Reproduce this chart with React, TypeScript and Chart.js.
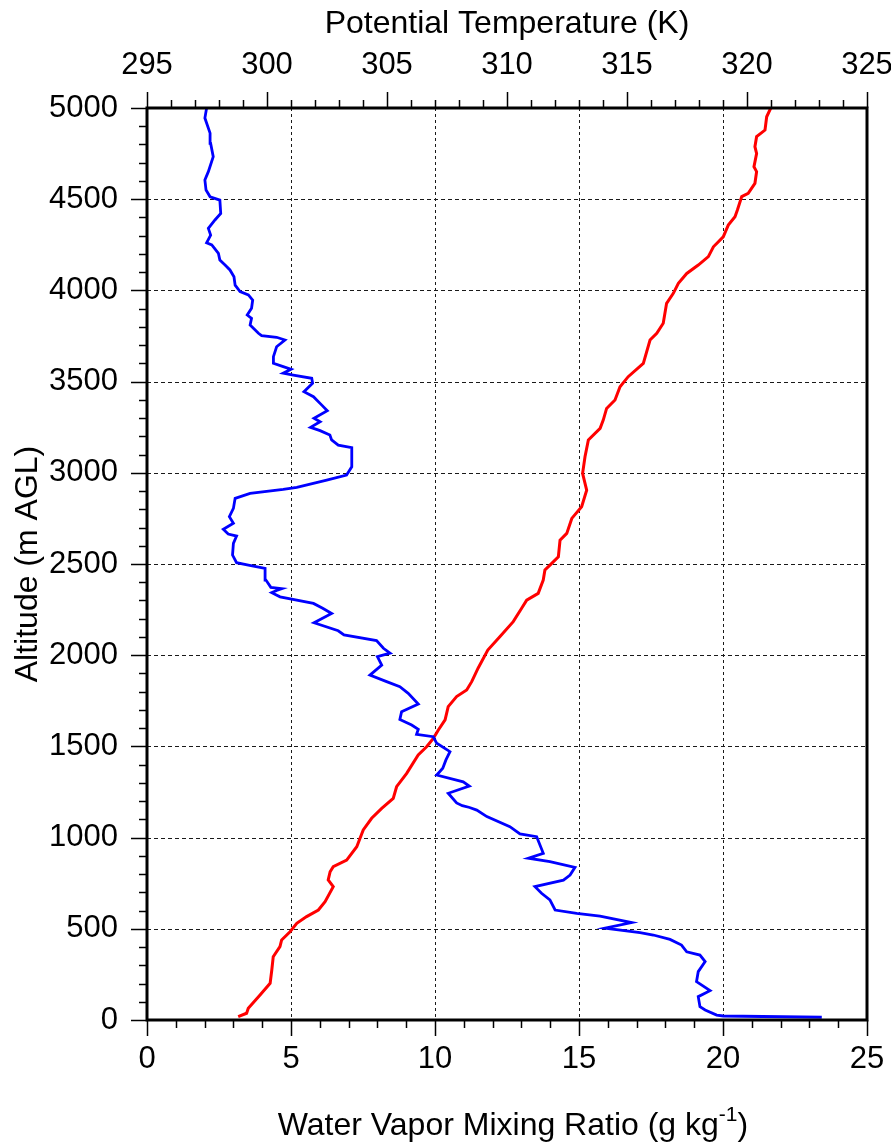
import React, { useEffect, useRef } from 'react';
import { Chart, registerables } from 'chart.js';

Chart.register(...registerables);

// Water vapor mixing ratio profile (g/kg) vs altitude (m AGL)
const mixingAltitude = [
  15, 22, 27, 55, 73, 128, 161, 210, 265, 320, 356, 374, 411, 442, 466, 479, 503, 534, 570, 585,
  603, 658, 695, 731, 767, 795, 837, 868, 887, 914, 1005, 1020, 1060, 1115, 1151, 1165, 1175, 1190,
  1243, 1283, 1306, 1343, 1380, 1426, 1471, 1517, 1553, 1566, 1594, 1617, 1648, 1690, 1732, 1791,
  1827, 1855, 1891, 1946, 1992, 2011, 2038, 2080, 2111, 2134, 2178, 2229, 2257, 2284, 2320, 2343,
  2355, 2365, 2372, 2412, 2476, 2494, 2507, 2549, 2613, 2653, 2664, 2690, 2723, 2759, 2805, 2860,
  2887, 2909, 2920, 2960, 2988, 3033, 3138, 3152, 3180, 3207, 3231, 3249, 3280, 3299, 3340, 3371,
  3417, 3445, 3491, 3518, 3536, 3546, 3568, 3582, 3600, 3637, 3691, 3728, 3743, 3752, 3765, 3810,
  3847, 3865, 3902, 3947, 3975, 3993, 4029, 4075, 4112, 4139, 4166, 4203, 4249, 4261, 4303, 4340,
  4386, 4422, 4495, 4513, 4550, 4605, 4651, 4733, 4806, 4862, 4945, 5000,
];
const mixingRatio = [
  23.43, 20.01, 19.78, 19.38, 19.2, 19.14, 19.55, 19.08, 19.14, 19.38, 19.2, 18.74, 18.56, 18.16, 17.58, 17.12, 15.9, 16.83, 15.73, 14.92,
  14.17, 13.99, 13.7, 13.47, 14.46, 14.69, 14.86, 13.99, 13.24, 13.76, 13.53, 12.95, 12.6, 11.8, 11.45, 11.2, 10.95, 10.75,
  10.46, 11.19, 10.98, 10.06, 10.27, 10.38, 10.52, 10.06, 9.94, 9.36, 9.42, 9.19, 8.78, 8.84, 9.42, 9.07,
  8.78, 8.32, 7.74, 8.15, 8.0, 8.44, 8.21, 7.97, 6.84, 6.64, 5.8, 6.41, 6.1, 5.78, 4.62, 4.33,
  4.5, 4.68, 4.3, 4.13, 4.1, 3.52, 3.11, 2.97, 3.0, 3.11, 2.82, 2.65, 3.0, 2.86, 3.0, 3.06,
  3.58, 4.73, 5.2, 6.24, 6.93, 7.11, 7.11, 6.64, 6.41, 6.35, 6.01, 5.68, 6.01, 5.8, 6.26, 6.07,
  5.78, 5.45, 5.75, 5.72, 5.08, 4.73, 5.0, 4.73, 4.39, 4.39, 4.5, 4.79, 4.5, 3.98, 3.87, 3.58,
  3.63, 3.48, 3.63, 3.67, 3.52, 3.23, 3.06, 3.02, 2.88, 2.71, 2.53, 2.48, 2.25, 2.07, 2.21, 2.13,
  2.36, 2.56, 2.53, 2.19, 2.05, 2.01, 2.13, 2.3, 2.21, 2.19, 2.01, 2.07,
];

// Potential temperature profile (K) vs altitude (m AGL)
const thetaAltitude = [
  18, 37, 64, 137, 201, 274, 347, 402, 439, 484, 530, 567, 603, 649, 731, 768, 813, 841, 877, 950,
  1042, 1106, 1160, 1215, 1279, 1352, 1453, 1498, 1544, 1590, 1645, 1718, 1773, 1809, 1855, 1930,
  2028, 2102, 2184, 2257, 2302, 2339, 2412, 2467, 2494, 2540, 2631, 2668, 2750, 2814, 2905, 2997,
  3088, 3180, 3244, 3289, 3353, 3399, 3472, 3527, 3600, 3728, 3765, 3820, 3929, 3984, 4039, 4093,
  4139, 4185, 4239, 4294, 4358, 4404, 4441, 4514, 4532, 4587, 4651, 4678, 4751, 4788, 4843, 4879,
  4952, 5000,
];
const theta = [
  298.8, 299.15, 299.22, 299.71, 300.13, 300.2, 300.26, 300.54, 300.61, 300.96, 301.24, 301.65, 302.14, 302.42, 302.76, 302.55, 302.63, 302.76, 303.32, 303.74,
  304.01, 304.36, 304.78, 305.26, 305.4, 305.82, 306.3, 306.65, 306.93, 307.14, 307.42, 307.55, 307.9, 308.32, 308.53, 308.8,
  309.2, 309.71, 310.26, 310.61, 310.82, 311.3, 311.51, 311.58, 311.79, 312.14, 312.21, 312.49, 312.7, 313.11, 313.32, 313.15,
  313.25, 313.39, 313.88, 314.01, 314.15, 314.5, 314.71, 315.05, 315.68, 315.96, 316.24, 316.51, 316.65, 316.93, 317.14, 317.49,
  317.97, 318.39, 318.6, 319.01, 319.22, 319.5, 319.6, 319.78, 320.05, 320.33, 320.4, 320.29, 320.4, 320.33, 320.4, 320.75,
  320.82, 320.99,
];

// Axis ranges / ticks
const ratioRange = [0, 25];
const ratioStep = 5;
const ratioMinorStep = 1;
const thetaRange = [295, 325];
const thetaStep = 5;
const thetaMinorStep = 1;
const altitudeRange = [0, 5000];
const altitudeStep = 500;
const altitudeMinorStep = 100;

const topTitle = 'Potential Temperature (K)';
const leftTitle = 'Altitude (m AGL)';
const bottomTitleMain = 'Water Vapor Mixing Ratio (g kg';
const bottomTitleSup = '-1';
const bottomTitleEnd = ')';

const FONT = '"Liberation Sans", Arial, Helvetica, sans-serif';
const TICK_SIZE = 31;
const TITLE_SIZE = 32;

function steps(min: number, max: number, step: number): number[] {
  const out: number[] = [];
  const n = Math.round((max - min) / step);
  for (let i = 0; i <= n; i++) out.push(min + i * step);
  return out;
}

const framePlugin = {
  id: 'frameAndTicks',
  beforeDatasetsDraw(chart: any) {
    const { ctx, chartArea: a, scales } = chart;
    ctx.save();
    ctx.strokeStyle = '#1a1a1a';
    ctx.lineWidth = 1;
    ctx.setLineDash([4, 3]);
    for (const v of steps(altitudeRange[0], altitudeRange[1], altitudeStep)) {
      if (v === altitudeRange[0] || v === altitudeRange[1]) continue;
      const y = Math.round(scales.y.getPixelForValue(v)) + 0.5;
      ctx.beginPath();
      ctx.moveTo(a.left, y);
      ctx.lineTo(a.right, y);
      ctx.stroke();
    }
    ctx.setLineDash([3, 3]);
    for (const v of steps(ratioRange[0], ratioRange[1], ratioStep)) {
      if (v === ratioRange[0] || v === ratioRange[1]) continue;
      const x = Math.round(scales.x.getPixelForValue(v)) + 0.5;
      ctx.beginPath();
      ctx.moveTo(x, a.top);
      ctx.lineTo(x, a.bottom);
      ctx.stroke();
    }
    ctx.restore();
  },
  afterDatasetsDraw(chart: any) {
    const { ctx, chartArea: a, scales } = chart;
    ctx.save();
    // ticks
    ctx.strokeStyle = '#000';
    ctx.lineWidth = 1.5;
    ctx.setLineDash([]);
    const major = 16;
    const minor = 8;
    for (const v of steps(altitudeRange[0], altitudeRange[1], altitudeMinorStep)) {
      const y = Math.round(scales.y.getPixelForValue(v)) + 0.5;
      const len = v % altitudeStep === 0 ? major : minor;
      ctx.beginPath();
      ctx.moveTo(a.left, y);
      ctx.lineTo(a.left - len, y);
      ctx.stroke();
    }
    for (const v of steps(ratioRange[0], ratioRange[1], ratioMinorStep)) {
      const x = Math.round(scales.x.getPixelForValue(v)) + 0.5;
      const len = v % ratioStep === 0 ? major : minor;
      ctx.beginPath();
      ctx.moveTo(x, a.bottom);
      ctx.lineTo(x, a.bottom + len);
      ctx.stroke();
    }
    for (const v of steps(thetaRange[0], thetaRange[1], thetaMinorStep)) {
      const x = Math.round(scales.x2.getPixelForValue(v)) + 0.5;
      const len = v % thetaStep === 0 ? major : minor;
      ctx.beginPath();
      ctx.moveTo(x, a.top);
      ctx.lineTo(x, a.top - len);
      ctx.stroke();
    }
    // frame
    ctx.lineWidth = 3;
    ctx.strokeRect(a.left, a.top, a.right - a.left, a.bottom - a.top);

    // bottom title with superscript
    ctx.fillStyle = '#000';
    ctx.textBaseline = 'alphabetic';
    ctx.textAlign = 'left';
    const mainFont = `${TITLE_SIZE}px ${FONT}`;
    const supFont = `${Math.round(TITLE_SIZE * 0.65)}px ${FONT}`;
    ctx.font = mainFont;
    const w1 = ctx.measureText(bottomTitleMain).width;
    const w3 = ctx.measureText(bottomTitleEnd).width;
    ctx.font = supFont;
    const w2 = ctx.measureText(bottomTitleSup).width;
    const total = w1 + w2 + w3;
    let x = (a.left + a.right) / 2 - total / 2 + 6;
    const y = chart.height - 11;
    ctx.font = mainFont;
    ctx.fillText(bottomTitleMain, x, y);
    x += w1;
    ctx.font = supFont;
    ctx.fillText(bottomTitleSup, x, y - 14);
    x += w2;
    ctx.font = mainFont;
    ctx.fillText(bottomTitleEnd, x, y);
    ctx.restore();
  },
};

export default function App() {
  const canvasRef = useRef<HTMLCanvasElement | null>(null);

  useEffect(() => {
    const canvas = canvasRef.current;
    if (!canvas) return;
    Chart.defaults.font.family = FONT;
    Chart.defaults.color = '#000';

    const tickFont = { size: TICK_SIZE, family: FONT };
    const titleFont = { size: TITLE_SIZE, family: FONT };
    const plain = (v: any) => String(v);

    const chart = new Chart(canvas, {
      type: 'scatter',
      data: {
        datasets: [
          {
            label: 'Water Vapor Mixing Ratio',
            data: mixingAltitude.map((h, i) => ({ x: mixingRatio[i], y: h })),
            xAxisID: 'x',
            yAxisID: 'y',
            showLine: true,
            borderColor: '#0000ff',
            backgroundColor: '#0000ff',
            borderWidth: 2.8,
            pointRadius: 0,
            tension: 0,
            fill: false,
          },
          {
            label: 'Potential Temperature',
            data: thetaAltitude.map((h, i) => ({ x: theta[i], y: h })),
            xAxisID: 'x2',
            yAxisID: 'y',
            showLine: true,
            borderColor: '#ff0000',
            backgroundColor: '#ff0000',
            borderWidth: 3,
            pointRadius: 0,
            tension: 0,
            fill: false,
          },
        ],
      },
      options: {
        responsive: false,
        animation: false,
        devicePixelRatio: 1,
        layout: { padding: { left: 0, top: 0, right: 24, bottom: 0 } },
        plugins: {
          legend: { display: false },
          tooltip: { enabled: false },
        },
        scales: {
          x: {
            type: 'linear',
            position: 'bottom',
            min: ratioRange[0],
            max: ratioRange[1],
            grid: { display: false, drawTicks: false },
            border: { display: false },
            ticks: { stepSize: ratioStep, padding: 21, font: tickFont, color: '#000', maxRotation: 0, autoSkip: false, callback: plain },
            afterFit: (s: any) => {
              s.height = 126;
              s.paddingLeft = 0;
              s.paddingRight = 0;
            },
          },
          x2: {
            type: 'linear',
            position: 'top',
            min: thetaRange[0],
            max: thetaRange[1],
            grid: { display: false, drawTicks: false },
            border: { display: false },
            ticks: { stepSize: thetaStep, padding: 24, font: tickFont, color: '#000', maxRotation: 0, autoSkip: false, callback: plain },
            title: { display: true, text: topTitle, font: titleFont, color: '#000', padding: { top: 5, bottom: 0 } },
            afterFit: (s: any) => {
              s.height = 108;
              s.paddingLeft = 0;
              s.paddingRight = 0;
            },
          },
          y: {
            type: 'linear',
            position: 'left',
            min: altitudeRange[0],
            max: altitudeRange[1],
            grid: { display: false, drawTicks: false },
            border: { display: false },
            ticks: { stepSize: altitudeStep, padding: 29, font: tickFont, color: '#000', autoSkip: false, callback: plain },
            title: { display: true, text: leftTitle, font: titleFont, color: '#000', padding: { top: 9, bottom: 0 } },
            afterFit: (s: any) => {
              s.width = 147;
              s.paddingTop = 0;
              s.paddingBottom = 0;
            },
          },
        },
      },
      plugins: [framePlugin],
    } as any);

    return () => chart.destroy();
  }, []);

  return (
    <div style={{ position: 'absolute', left: 0, top: 0, width: 891, height: 1146, background: '#fff' }}>
      <canvas ref={canvasRef} width={891} height={1146} style={{ display: 'block' }} />
    </div>
  );
}
